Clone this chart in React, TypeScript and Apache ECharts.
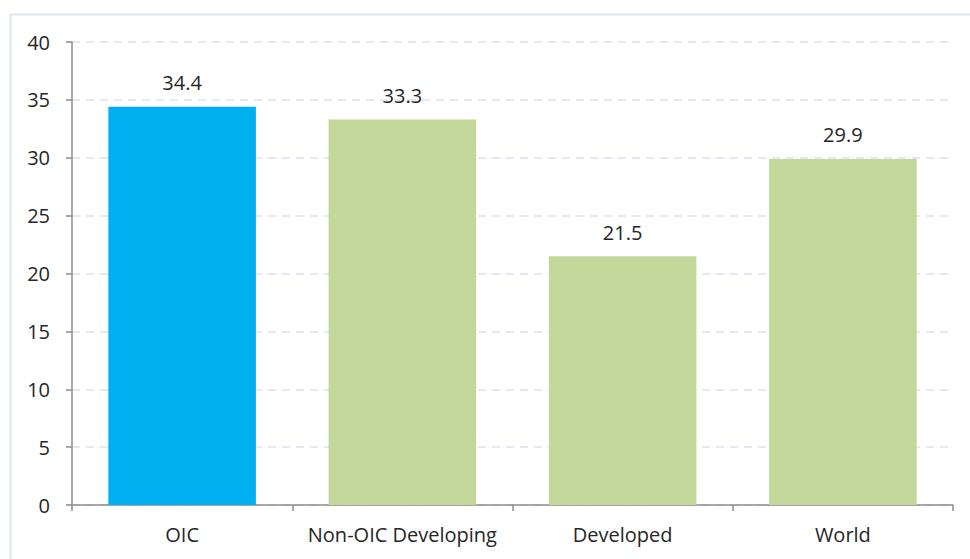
import React, { useEffect, useRef } from "react";
import * as echarts from "echarts";

const categories = ["OIC", "Non-OIC Developing", "Developed", "World"];
const values = [34.4, 33.3, 21.5, 29.9];
const barColors = ["#00B0F0", "#C4D79B", "#C4D79B", "#C4D79B"];

export default function App() {
  const ref = useRef<HTMLDivElement>(null);
  useEffect(() => {
    if (!ref.current) return;
    const chart = echarts.init(ref.current, undefined, { renderer: "svg" });
    const font = "'Open Sans', 'Noto Sans', sans-serif";
    chart.setOption({
      animation: false,
      backgroundColor: "#ffffff",
      textStyle: { fontFamily: font },
      graphic: [
        {
          type: "rect",
          left: 8,
          top: 12,
          shape: { x: 0, y: 0, width: 1000, height: 600 },
          style: { fill: "none", stroke: "#dce6f2", lineWidth: 2 },
          silent: true,
          z: 0,
        },
      ],
      grid: { left: 72, right: 17, top: 42, bottom: 54, containLabel: false },
      xAxis: {
        type: "category",
        data: categories,
        axisLine: { lineStyle: { color: "#8c8c8c", width: 1.5 } },
        axisTick: { show: true, length: 6, lineStyle: { color: "#8c8c8c", width: 1.5 } },
        axisLabel: { color: "#262626", fontSize: 20, margin: 19, interval: 0, fontFamily: font },
      },
      yAxis: {
        type: "value",
        min: 0,
        max: 40,
        interval: 5,
        axisLine: { show: true, lineStyle: { color: "#8c8c8c", width: 1.5 } },
        axisTick: { show: true, length: 6, lineStyle: { color: "#8c8c8c", width: 1.5 } },
        axisLabel: { color: "#262626", fontSize: 20, margin: 22, fontFamily: font },
        splitLine: { lineStyle: { color: "#d9e2f0", type: [8, 6], width: 1.5 } },
      },
      series: [
        {
          type: "bar",
          data: values.map((v, i) => ({ value: v, itemStyle: { color: barColors[i] } })),
          barCategoryGap: "33%",
          label: {
            show: true,
            position: "top",
            distance: 14,
            color: "#262626",
            fontSize: 20,
            fontFamily: font,
            formatter: (p: any) => p.value.toFixed(1),
          },
        },
      ],
    });
    return () => chart.dispose();
  }, []);
  return (
    <div
      ref={ref}
      style={{ position: "absolute", left: 0, top: 0, width: 970, height: 559 }}
    />
  );
}
